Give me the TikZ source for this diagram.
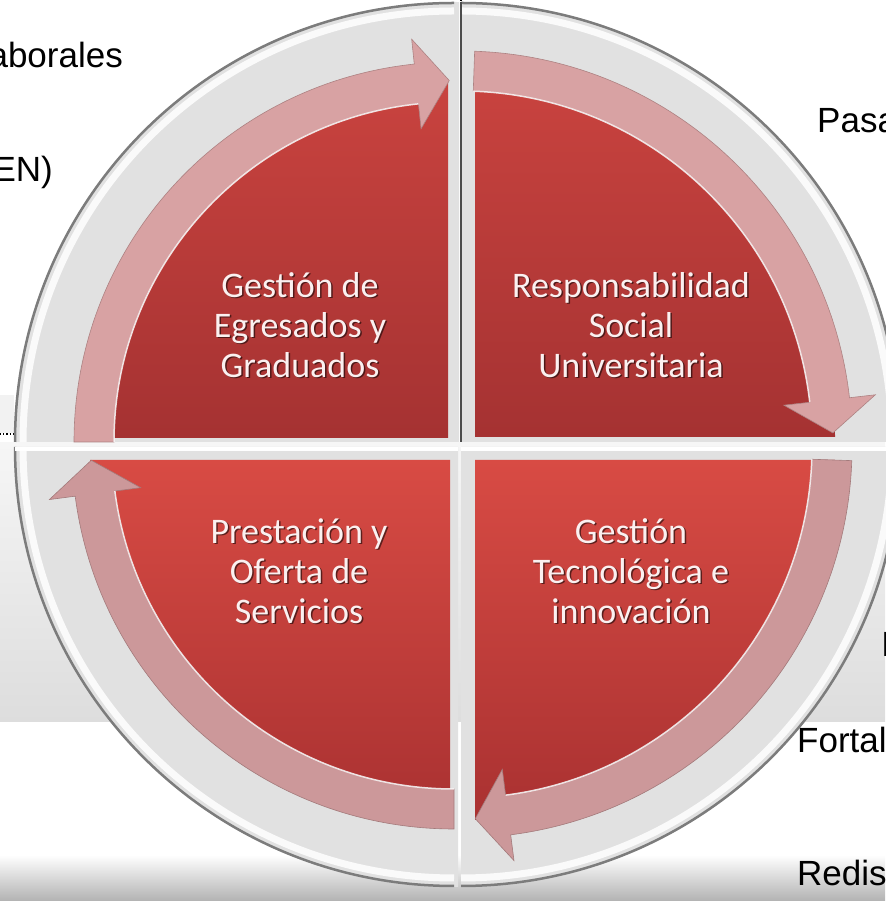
\documentclass[tikz,border=0pt]{standalone}
\usepackage{fontspec}
\newfontfamily\calib{Carlito}
\newfontfamily\arialf{Liberation Sans}
\definecolor{ringgray}{HTML}{E1E1E1}
\definecolor{rimdark}{HTML}{7C7C7C}
\definecolor{redtopU}{HTML}{C9433F}
\definecolor{redbotU}{HTML}{A53232}
\definecolor{redtopL}{HTML}{D84B44}
\definecolor{redbotL}{HTML}{A93131}
\definecolor{bandpink}{HTML}{D8A2A3}
\definecolor{bandpinkL}{HTML}{CC989A}
\definecolor{txtlight}{HTML}{FBF0F0}
\definecolor{panelTop}{HTML}{F6F6F6}
\definecolor{panelBot}{HTML}{DDDDDD}
\tikzset{
  ring/.style={fill=ringgray},
  rim/.style={draw=rimdark, line width=2.5},
  rimlight/.style={draw=white, line width=7, opacity=.85},
  redU/.style={top color=redtopU, bottom color=redbotU},
  redL/.style={top color=redtopL, bottom color=redbotL},
  band/.style={fill=bandpink, draw=bandpink!80!black, line width=.6},
  bandL/.style={fill=bandpinkL, draw=bandpinkL!80!black, line width=.6},
  bandhl/.style={draw=white, line width=1.5, opacity=.8},
  quadtext/.style={font=\calib\fontsize{36}{40}\selectfont, align=center, inner sep=0, text=txtlight},
  quadshadow/.style={quadtext, text=black, text opacity=.55},
  sidetext/.style={font=\arialf\fontsize{35}{40}\selectfont, inner sep=0, text=black},
  boxedge/.style={dotted, line width=1.2, black},
}
\begin{document}
\begin{tikzpicture}[x=1pt,y=1pt]
\useasboundingbox (0,0) rectangle (885,901);
\fill[white] (0,0) rectangle (885,901);
% background panel and bottom shadow
\shade[top color=panelTop, bottom color=panelBot] (0,179) rectangle (885,458);
\shade[top color=white, bottom color=black!30] (0,0) rectangle (885,46);
\fill[black!5] (0,468) rectangle (14,506);
\draw[boxedge] (0,467) -- (15,467);
\draw[boxedge] (461,901) -- (461,885);

% ---------- upper left quadrant ----------
\begin{scope}[shift={(454,459)}]
  \fill[ring] (0,0) -- (-440,0) arc[start angle=180,end angle=90,radius=440] -- (5,439.97) -- (5,0) -- cycle;
  \draw[rimlight] (-431,0) arc[start angle=180,end angle=90,radius=431];
  \draw[rim] (-439,0) arc[start angle=180,end angle=90,radius=439];
  \shade[redU] (-6,4) -- (-362,4) arc[start angle=180,end angle=90,radius=356] -- cycle;
  \fill[band] (180:380) arc[start angle=180,end angle=96,radius=380] -- (96:405) -- (90.75:361.5) -- (96:315) -- (96:340) arc[start angle=96,end angle=180,radius=340] -- cycle;
  \draw[bandhl] (96:340) arc[start angle=96,end angle=180,radius=340];
\end{scope}

% ---------- upper right quadrant ----------
\begin{scope}[shift={(461,459)}]
  \fill[ring] (0,0) -- (0,440) arc[start angle=90,end angle=0,radius=440] -- cycle;
  \draw[rimlight] (0,431) arc[start angle=90,end angle=0,radius=431];
  \draw[rim] (0,439) arc[start angle=90,end angle=0,radius=439];
  \shade[redU] (14,5) -- (14,365) arc[start angle=90,end angle=0,radius=360] -- cycle;
  \fill[band] (88:391) arc[start angle=88,end angle=6.5,radius=391] -- (6.5:417) -- (1.4:372) -- (6.5:325) -- (6.5:351) arc[start angle=6.5,end angle=88,radius=351] -- cycle;
  \draw[bandhl] (6.5:351) arc[start angle=6.5,end angle=88,radius=351];
  \draw[black!70, line width=2] (0,0) -- (0,440);
\end{scope}

% ---------- lower left quadrant ----------
\begin{scope}[shift={(454,454)}]
  \fill[ring] (0,0) -- (4,0) -- (4,-439.98) -- (0,-440) arc[start angle=270,end angle=180,radius=440] -- cycle;
  \draw[rimlight] (0,-431) arc[start angle=270,end angle=180,radius=431];
  \draw[rim] (0,-439) arc[start angle=270,end angle=180,radius=439];
  \draw[white, line width=4] (4,-2) -- (-439,-2);
  \shade[redL] (-4,-13) -- (-4,-373) arc[start angle=270,end angle=180,radius=360] -- cycle;
  \fill[bandL] (270:382) arc[start angle=270,end angle=187.4,radius=382] -- (187.4:408) -- (182.1:363) -- (187.4:316) -- (187.4:342) arc[start angle=187.4,end angle=270,radius=342] -- cycle;
  \draw[bandhl] (187.4:342) arc[start angle=187.4,end angle=270,radius=342];
\end{scope}

% ---------- lower right quadrant ----------
\begin{scope}[shift={(461,454)}]
  \fill[ring] (0,0) -- (440,0) arc[start angle=0,end angle=-90,radius=440] -- cycle;
  \draw[rimlight] (431,0) arc[start angle=0,end angle=-90,radius=431];
  \draw[rim] (439,0) arc[start angle=0,end angle=-90,radius=439];
  \draw[white, line width=4] (0,-2) -- (439,-2);
  \shade[redL] (14,-13) -- (374,-13) arc[start angle=0,end angle=-90,radius=360] -- cycle;
  \fill[bandL] (-2:391) arc[start angle=-2,end angle=-82.7,radius=391] -- (-82.7:417) -- (-87.8:372) -- (-82.7:325) -- (-82.7:351) arc[start angle=-82.7,end angle=-2,radius=351] -- cycle;
  \draw[bandhl] (-82.7:351) arc[start angle=-82.7,end angle=-2,radius=351];
\end{scope}

% ---------- quadrant labels ----------
\node[quadshadow] (ulS) at (301.5,574.5) {Gestión de\\Egresados y\\Graduados};
\node[quadtext]   (ulT) at (300,576) {Gestión de\\Egresados y\\Graduados};
\node[quadshadow] (urS) at (632.5,574.5) {Responsabilidad\\Social\\Universitaria};
\node[quadtext]   (urT) at (631,576) {Responsabilidad\\Social\\Universitaria};
\node[quadshadow] (llS) at (300.5,328.5) {Prestación y\\Oferta de\\Servicios};
\node[quadtext]   (llT) at (299,330) {Prestación y\\Oferta de\\Servicios};
\node[quadshadow] (lrS) at (632.5,328.5) {Gestión\\Tecnológica e\\innovación};
\node[quadtext]   (lrT) at (631,330) {Gestión\\Tecnológica e\\innovación};

% ---------- side texts (cut by the page edge, as in the reference) ----------
\node[sidetext, anchor=base east] (s1) at (123,833) {aborales};
\node[sidetext, anchor=base east] (s2) at (53,719) {EN)};
\node[sidetext, anchor=base west] (s3) at (817,768) {Pasa};
\node[sidetext, anchor=base west] (s4) at (881,244) {I};
\node[sidetext, anchor=base west] (s5) at (797,148) {Fortal};
\node[sidetext, anchor=base west] (s6) at (797,16) {Redis};
\end{tikzpicture}
\end{document}
